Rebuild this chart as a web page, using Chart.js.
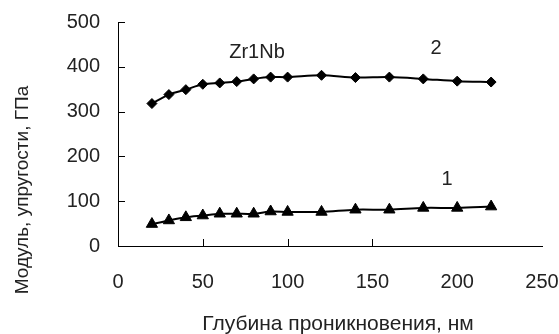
<!DOCTYPE html>
<html>
<head>
<meta charset="utf-8">
<script src="https://cdn.jsdelivr.net/npm/chart.js@4/dist/chart.umd.min.js"></script>
<style>
  html, body { margin: 0; padding: 0; background: #fff; }
  #wrap { width: 559px; height: 334px; position: relative; }
</style>
</head>
<body>
<div id="wrap"><canvas id="c" width="559" height="334"></canvas></div>
<script>
// ---- data ----
const depths = [20, 30, 40, 50, 60, 70, 80, 90, 100, 120, 140, 160, 180, 200, 220];
const series2 = [318, 338, 349, 361, 364, 367, 373, 377, 377, 381, 376, 377, 373, 368, 366];
const series1 = [49, 57, 64, 68, 72, 72, 72, 77, 76, 76, 81, 81, 85, 85, 88];
const xTickValues = [0, 50, 100, 150, 200, 250];
const yTickValues = [0, 100, 200, 300, 400, 500];
const xInnerTickValues = [50, 100, 150];
const yInnerTickValues = [100, 200, 300, 400, 500];
const xTitle = 'Глубина проникновения, нм';
const yTitle = 'Модуль, упругости, ГПа';
const seriesLabels = [
  { text: 'Zr1Nb', x: 257, y: 58 },
  { text: '2', x: 436, y: 54 },
  { text: '1', x: 447, y: 185 }
];

const FONT = '"Liberation Sans", Arial, sans-serif';
const TXT = '#222';

const toPts = (vals) => depths.map((d, i) => ({ x: d, y: vals[i] }));

const noPad = (s) => { s.paddingLeft = 0; s.paddingRight = 0; s.paddingTop = 0; s.paddingBottom = 0; };

const decor = {
  id: 'decor',
  afterDraw(chart) {
    const { ctx, scales: { x, y }, chartArea } = chart;
    ctx.save();
    ctx.strokeStyle = '#000';
    ctx.lineWidth = 1;
    // inner tick marks
    xInnerTickValues.forEach(v => {
      const px = Math.round(x.getPixelForValue(v)) + 0.5;
      ctx.beginPath();
      ctx.moveTo(px, chartArea.bottom);
      ctx.lineTo(px, chartArea.bottom - 7);
      ctx.stroke();
    });
    yInnerTickValues.forEach(v => {
      const py = Math.round(y.getPixelForValue(v)) + 0.5;
      ctx.beginPath();
      ctx.moveTo(chartArea.left, py);
      ctx.lineTo(chartArea.left + 7, py);
      ctx.stroke();
    });
    // titles
    ctx.fillStyle = TXT;
    ctx.textAlign = 'center';
    ctx.textBaseline = 'alphabetic';
    ctx.font = '21px ' + FONT;
    ctx.fillText(xTitle, 338, 330);
    ctx.font = '19px ' + FONT;
    ctx.save();
    ctx.translate(28, 190);
    ctx.rotate(-Math.PI / 2);
    ctx.fillText(yTitle, 0, 0);
    ctx.restore();
    // series labels
    ctx.font = '20px ' + FONT;
    seriesLabels.forEach(l => ctx.fillText(l.text, l.x, l.y));
    ctx.restore();
  }
};

new Chart(document.getElementById('c'), {
  type: 'line',
  data: {
    datasets: [
      {
        label: '2',
        data: toPts(series2),
        borderColor: '#000',
        backgroundColor: '#000',
        borderWidth: 2,
        pointStyle: 'rectRot',
        pointRadius: 5,
        pointBorderWidth: 1,
        pointBackgroundColor: '#000',
        pointBorderColor: '#000',
        tension: 0.3
      },
      {
        label: '1',
        data: toPts(series1),
        borderColor: '#000',
        backgroundColor: '#000',
        borderWidth: 2,
        pointStyle: 'triangle',
        pointRadius: 6.5,
        pointBorderWidth: 1,
        pointBackgroundColor: '#000',
        pointBorderColor: '#000',
        tension: 0.3
      }
    ]
  },
  options: {
    responsive: false,
    animation: false,
    devicePixelRatio: 1,
    layout: { padding: { left: 0, right: 17, top: 22, bottom: 0 } },
    plugins: { legend: { display: false }, tooltip: { enabled: false } },
    scales: {
      x: {
        type: 'linear',
        min: 0, max: 250,
        afterBuildTicks: (s) => { s.ticks = xTickValues.map(v => ({ value: v })); },
        afterFit: (s) => { s.height = 88; noPad(s); },
        grid: { display: false, drawTicks: false },
        border: { display: true, color: '#000', width: 1 },
        ticks: { padding: 24, color: TXT, font: { family: FONT, size: 20 }, maxRotation: 0 }
      },
      y: {
        min: 0, max: 500,
        afterBuildTicks: (s) => { s.ticks = yTickValues.map(v => ({ value: v })); },
        afterFit: (s) => { s.width = 118; noPad(s); },
        grid: { display: false, drawTicks: false },
        border: { display: true, color: '#000', width: 1 },
        ticks: { padding: 18, color: TXT, font: { family: FONT, size: 20 } }
      }
    }
  },
  plugins: [decor]
});
</script>
</body>
</html>
